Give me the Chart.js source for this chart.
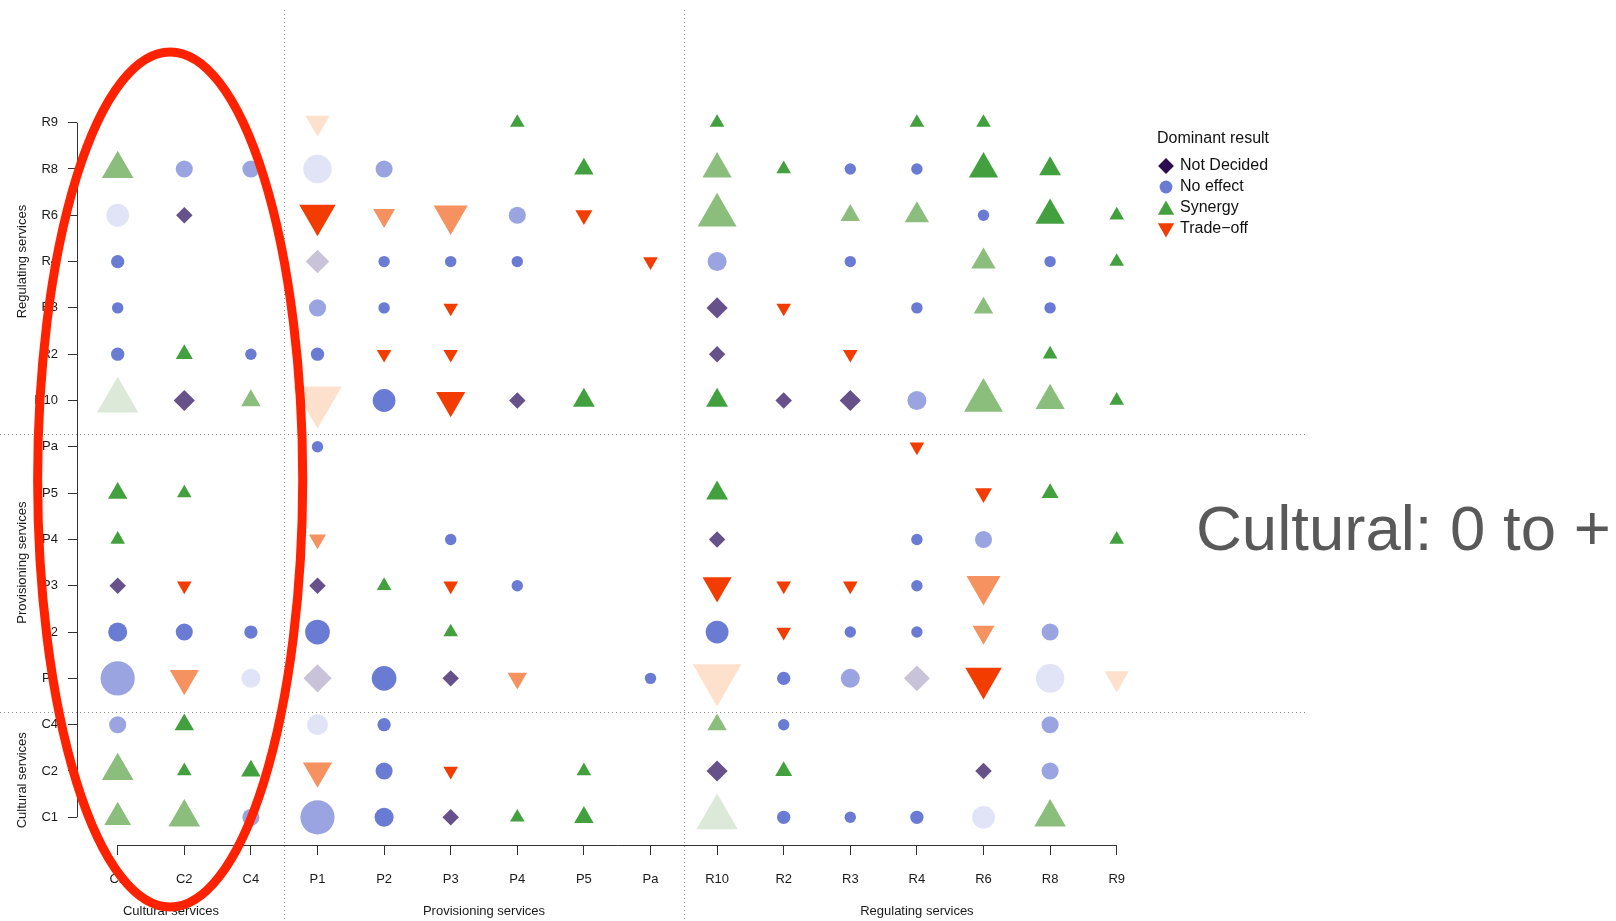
<!DOCTYPE html>
<html>
<head>
<meta charset="utf-8">
<script src="https://cdn.jsdelivr.net/npm/chart.js@4.4.1/dist/chart.umd.min.js"></script>
<style>
  html, body { margin: 0; padding: 0; background: #ffffff; }
  #wrap { position: relative; width: 1616px; height: 921px; }
</style>
</head>
<body>
<div id="wrap"><canvas id="matrix"></canvas></div>
<script>
// Ecosystem services, in axis order (both axes share the same list)
const categories = ['C1', 'C2', 'C4', 'P1', 'P2', 'P3', 'P4', 'P5', 'Pa',
                    'R10', 'R2', 'R3', 'R4', 'R6', 'R8', 'R9'];
const groupNames = ['Cultural services', 'Provisioning services', 'Regulating services'];
const resultNames = ['Not Decided', 'No effect', 'Synergy', 'Trade\u2212off'];
const resultCodes = ['D', 'N', 'S', 'T'];

// One list per row service: [column service, dominant result, number of studies, agreement 1-3]
const rowC1 = [['C1','S',6,2],['C2','S',8,2],['C4','N',4,2],['P1','N',13,2],['P2','N',5,3],['P3','D',2,3],
               ['P4','S',1,3],['P5','S',3,3],['R10','S',12,1],['R2','N',2,3],['R3','N',1,3],['R4','N',2,3],
               ['R6','N',7,1],['R8','S',8,2]];
const rowC2 = [['C1','S',8,2],['C2','S',1,3],['C4','S',3,3],['P1','T',7,2],['P2','N',4,3],['P3','T',1,3],
               ['P5','S',1,3],['R10','D',4,3],['R2','S',2,3],['R6','D',2,3],['R8','N',4,2]];
const rowC4 = [['C1','N',4,2],['C2','S',3,3],['P1','N',6,1],['P2','N',2,3],['R10','S',3,2],['R2','N',1,3],
               ['R8','N',4,2]];
const rowP1 = [['C1','N',13,2],['C2','T',7,2],['C4','N',5,1],['P1','D',7,1],['P2','N',8,3],['P3','D',2,3],
               ['P4','T',3,2],['Pa','N',1,3],['R10','T',15,1],['R2','N',2,3],['R3','N',5,2],['R4','D',6,1],
               ['R6','T',10,3],['R8','N',10,1],['R9','T',5,1]];
const rowP2 = [['C1','N',5,3],['C2','N',4,3],['C4','N',2,3],['P1','N',8,3],['P3','S',1,3],['R10','N',7,3],
               ['R2','T',1,3],['R3','N',1,3],['R4','N',1,3],['R6','T',4,2],['R8','N',4,2]];
const rowP3 = [['C1','D',2,3],['C2','T',1,3],['P1','D',2,3],['P2','S',1,3],['P3','T',1,3],['P4','N',1,3],
               ['R10','T',7,3],['R2','T',1,3],['R3','T',1,3],['R4','N',1,3],['R6','T',9,2]];
const rowP4 = [['C1','S',1,3],['P1','T',2,2],['P3','N',1,3],['R10','D',2,3],['R4','N',1,3],['R6','N',4,2],
               ['R9','S',1,3]];
const rowP5 = [['C1','S',3,3],['C2','S',1,3],['R10','S',4,3],['R6','T',2,3],['R8','S',2,3]];
const rowPa = [['P1','N',1,3],['R4','T',1,3]];
const rowR10 = [['C1','S',12,1],['C2','D',4,3],['C4','S',3,2],['P1','T',15,1],['P2','N',7,3],['P3','T',7,3],
                ['P4','D',2,3],['P5','S',4,3],['R10','S',4,3],['R2','D',2,3],['R3','D',4,3],['R4','N',5,2],
                ['R6','S',11,2],['R8','S',7,2],['R9','S',1,3]];
const rowR2 = [['C1','N',2,3],['C2','S',2,3],['C4','N',1,3],['P1','N',2,3],['P2','T',1,3],['P3','T',1,3],
               ['R10','D',2,3],['R3','T',1,3],['R8','S',1,3]];
const rowR3 = [['C1','N',1,3],['P1','N',4,2],['P2','N',1,3],['P3','T',1,3],['R10','D',4,3],['R2','T',1,3],
               ['R4','N',1,3],['R6','S',3,2],['R8','N',1,3]];
const rowR4 = [['C1','N',2,3],['P1','D',5,1],['P2','N',1,3],['P3','N',1,3],['P4','N',1,3],['Pa','T',1,3],
               ['R10','N',5,2],['R3','N',1,3],['R6','S',5,2],['R8','N',1,3],['R9','S',1,3]];
const rowR6 = [['C1','N',7,1],['C2','D',2,3],['P1','T',10,3],['P2','T',4,2],['P3','T',9,2],['P4','N',4,2],
               ['P5','T',2,3],['R10','S',11,2],['R3','S',3,2],['R4','S',5,2],['R6','N',1,3],['R8','S',7,3],
               ['R9','S',1,3]];
const rowR8 = [['C1','S',8,2],['C2','N',4,2],['C4','N',4,2],['P1','N',10,1],['P2','N',4,2],['P5','S',3,3],
               ['R10','S',7,2],['R2','S',1,3],['R3','N',1,3],['R4','N',1,3],['R6','S',7,3],['R8','S',4,3]];
const rowR9 = [['P1','T',5,1],['P4','S',1,3],['R10','S',1,3],['R4','S',1,3],['R6','S',1,3]];

const rowsInOrder = [rowC1, rowC2, rowC4, rowP1, rowP2, rowP3, rowP4, rowP5, rowPa,
                     rowR10, rowR2, rowR3, rowR4, rowR6, rowR8, rowR9];

// ---- styling ----
const FONT = "'Liberation Sans', Arial, Helvetica, sans-serif";
const markerStyle = {
  D: { pointStyle: 'rectRot',  rotation: 0,   factor: 0.62 },
  N: { pointStyle: 'circle',   rotation: 0,   factor: 0.5 },
  S: { pointStyle: 'triangle', rotation: 0,   factor: 0.739 },
  T: { pointStyle: 'triangle', rotation: 180, factor: 0.739 }
};
// fill per agreement level: weak, medium, strong
const palette = {
  D: ['#c9c3da', '#9a8db3', '#66518a'],
  N: ['#e1e4f7', '#9aa4e1', '#6a7bd4'],
  S: ['#dce9d8', '#8bbd7c', '#43a03f'],
  T: ['#fde1cd', '#f5925f', '#f23c00']
};
const legendColors = { D: '#2e0a50', N: '#6a7bd4', S: '#43a03f', T: '#f23c00' };
// equivalent marker diameter (px) for a number of studies
const markerSize = n => 9.5 + 1.9 * n;

// plot geometry
const AREA_LEFT = 77, AREA_BOTTOM = 845, AREA_TOP = 100, AREA_RIGHT = 1150;
const X_MIN = -0.611, X_MAX = 15.5, Y_MIN = -0.598, Y_MAX = 15.489;
const groupCenters = [0.8, 5.5, 12];
const xSeparators = [2.5, 8.5];
const ySeparators = [2.27, 8.27];

// ---- datasets, one per dominant result ----
const datasets = resultCodes.map((code, k) => {
  const pts = [];
  rowsInOrder.forEach((row, yi) => {
    row.forEach(([col, res, n, lvl]) => {
      if (res === code) pts.push({ x: categories.indexOf(col), y: yi, n: n, lvl: lvl });
    });
  });
  const st = markerStyle[code];
  const radii = pts.map(p => st.factor * markerSize(p.n));
  return {
    label: resultNames[k],
    data: pts,
    pointStyle: st.pointStyle,
    pointRotation: st.rotation,
    pointRadius: radii,
    pointHoverRadius: radii,
    pointBackgroundColor: pts.map(p => palette[code][p.lvl - 1]),
    pointBorderWidth: 0,
    pointHoverBorderWidth: 0,
    clip: false
  };
});

// ---- drawing helpers ----
function drawMarker(ctx, code, x, y, r) {
  ctx.beginPath();
  if (code === 'N') {
    ctx.arc(x, y, r, 0, Math.PI * 2);
  } else if (code === 'D') {
    ctx.moveTo(x - r, y); ctx.lineTo(x, y - r); ctx.lineTo(x + r, y); ctx.lineTo(x, y + r);
  } else {
    const s = code === 'S' ? 1 : -1;
    for (let i = 0; i < 3; i++) {
      const a = i * 2 * Math.PI / 3;
      const px = x + Math.sin(a) * r, py = y - s * Math.cos(a) * r;
      if (i === 0) ctx.moveTo(px, py); else ctx.lineTo(px, py);
    }
  }
  ctx.closePath();
  ctx.fillStyle = legendColors[code];
  ctx.fill();
}

const separators = {
  id: 'separators',
  beforeDatasetsDraw(chart) {
    const { ctx, scales: { x, y } } = chart;
    ctx.save();
    ctx.strokeStyle = '#8c8c8c';
    ctx.lineWidth = 1;
    ctx.setLineDash([1, 3]);
    xSeparators.forEach(v => {
      const px = Math.round(x.getPixelForValue(v)) + 0.5;
      ctx.beginPath(); ctx.moveTo(px, 10); ctx.lineTo(px, chart.height); ctx.stroke();
    });
    ySeparators.forEach(v => {
      const py = Math.round(y.getPixelForValue(v)) + 0.5;
      ctx.beginPath(); ctx.moveTo(0, py); ctx.lineTo(1308, py); ctx.stroke();
    });
    ctx.restore();
  }
};

const axesAndNotes = {
  id: 'axesAndNotes',
  afterDraw(chart) {
    const { ctx, chartArea, scales: { x, y } } = chart;
    const last = categories.length - 1;
    ctx.save();
    // axis lines spanning first to last category
    ctx.strokeStyle = '#333333';
    ctx.lineWidth = 1;
    const by = Math.round(chartArea.bottom) + 0.5;
    ctx.beginPath(); ctx.moveTo(x.getPixelForValue(0), by); ctx.lineTo(x.getPixelForValue(last), by); ctx.stroke();
    const lx = Math.round(chartArea.left) + 0.5;
    ctx.beginPath(); ctx.moveTo(lx, y.getPixelForValue(0)); ctx.lineTo(lx, y.getPixelForValue(last)); ctx.stroke();

    // group titles
    ctx.fillStyle = '#1a1a1a';
    ctx.font = '13px ' + FONT;
    ctx.textAlign = 'center';
    ctx.textBaseline = 'middle';
    groupNames.forEach((g, i) => {
      ctx.fillText(g, x.getPixelForValue(groupCenters[i]), 911);
      ctx.save();
      ctx.translate(22, y.getPixelForValue(groupCenters[i]));
      ctx.rotate(-Math.PI / 2);
      ctx.fillText(g, 0, 0);
      ctx.restore();
    });

    // legend
    ctx.textAlign = 'left';
    ctx.font = '16px ' + FONT;
    ctx.fillStyle = '#111111';
    ctx.fillText('Dominant result', 1157, 139);
    const markerR = { D: 7.9, N: 6.4, S: 9.4, T: 9.4 };
    const markerDy = { D: 0, N: 0, S: 2, T: -1 };
    resultCodes.forEach((code, i) => {
      const yy = 166 + 21 * i;
      drawMarker(ctx, code, 1166, yy + markerDy[code], markerR[code]);
      ctx.fillStyle = '#111111';
      ctx.fillText(resultNames[i], 1180, yy);
    });

    // highlight around the cultural columns
    const cx = x.getPixelForValue(0.788), cy = y.getPixelForValue(7.294);
    const rx = x.getPixelForValue(1.99) - x.getPixelForValue(0);
    const ry = y.getPixelForValue(0) - y.getPixelForValue(9.231);
    ctx.beginPath();
    ctx.ellipse(cx, cy, rx, ry, 0, 0, Math.PI * 2);
    ctx.strokeStyle = '#ff2200';
    ctx.lineWidth = 9;
    ctx.stroke();

    // side note
    ctx.font = '63.5px ' + FONT;
    ctx.fillStyle = '#595959';
    ctx.textBaseline = 'alphabetic';
    ctx.fillText('Cultural: 0 to +', 1196, 550);
    ctx.restore();
  }
};

const tickFont = { family: FONT, size: 13 };
const catTicks = scale => { scale.ticks = categories.map((c, i) => ({ value: i })); };

new Chart(document.getElementById('matrix'), {
  type: 'scatter',
  data: { datasets: datasets },
  options: {
    responsive: true,
    maintainAspectRatio: false,
    devicePixelRatio: 1,
    animation: false,
    events: [],
    layout: { padding: { top: AREA_TOP, right: 1616 - AREA_RIGHT, left: 0, bottom: 0 } },
    plugins: { legend: { display: false }, tooltip: { enabled: false } },
    scales: {
      x: {
        type: 'linear', min: X_MIN, max: X_MAX,
        afterBuildTicks: catTicks,
        afterFit: s => { s.height = 921 - AREA_BOTTOM; },
        ticks: { autoSkip: false, maxRotation: 0, minRotation: 0, padding: 17, color: '#1a1a1a', font: tickFont,
                 callback: v => categories[v] },
        grid: { drawOnChartArea: false, drawTicks: true, tickLength: 10, color: '#333333', lineWidth: 1 },
        border: { display: false }
      },
      y: {
        type: 'linear', min: Y_MIN, max: Y_MAX,
        afterBuildTicks: catTicks,
        afterFit: s => { s.width = AREA_LEFT; },
        ticks: { autoSkip: false, padding: 10, color: '#1a1a1a', font: tickFont,
                 callback: v => categories[v] },
        grid: { drawOnChartArea: false, drawTicks: true, tickLength: 9, color: '#333333', lineWidth: 1 },
        border: { display: false }
      }
    }
  },
  plugins: [separators, axesAndNotes]
});
</script>
</body>
</html>
